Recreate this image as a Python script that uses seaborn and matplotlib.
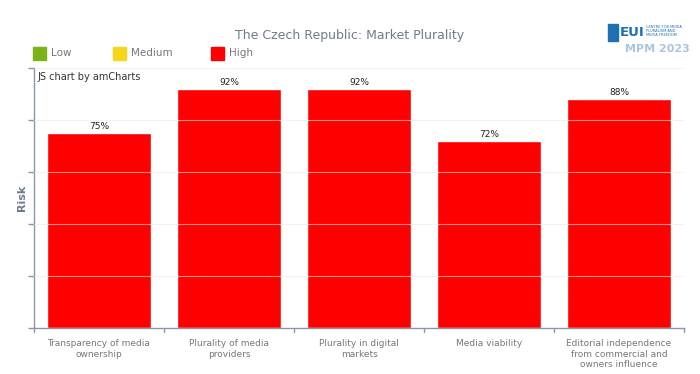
import matplotlib
matplotlib.use("Agg")
import matplotlib.pyplot as plt
import seaborn as sns
import pandas as pd
from matplotlib.patches import Rectangle

categories = ["Transparency of media\nownership", "Plurality of media\nproviders",
              "Plurality in digital\nmarkets", "Media viability",
              "Editorial independence\nfrom commercial and\nowners influence"]
values = [75, 92, 92, 72, 88]
value_labels = ["75%", "92%", "92%", "72%", "88%"]
legend_labels = ["Low", "Medium", "High"]
legend_colors = ["#7ab317", "#f7d51d", "#ff0000"]
y_ticks = [0, 20, 40, 60, 80, 100]

sns.set_theme(style="white")
plt.rcParams['font.family'] = ['DejaVu Sans']

df = pd.DataFrame({"category": categories, "value": values})

fig = plt.figure(figsize=(7.0, 3.74), dpi=100)
ax = fig.add_axes([34/700, 1-328/374, 650/700, 260/374])

sns.barplot(data=df, x="category", y="value", color="#ff0000", width=0.8,
            saturation=1, ax=ax, zorder=2)

ax.set_ylim(0, 100)
ax.set_xlim(-0.5, 4.5)
ax.set_yticks(y_ticks)
ax.set_yticklabels([])
for yv in y_ticks[1:]:
    ax.axhline(yv, color="#ececec", lw=0.8, zorder=3, alpha=0.6)

for i, (v, lab) in enumerate(zip(values, value_labels)):
    ax.text(i, v + 0.8, lab, ha="center", va="bottom", fontsize=6.5, color="#222222")

ax.set_xlabel("")
ax.set_ylabel("Risk", fontsize=8, color="#6d7b8d", fontweight="bold")
ax.yaxis.set_label_coords(-0.011, 0.5)
ax.set_xticks(range(len(categories)))
ax.set_xticklabels(categories, fontsize=6.5, color="#777777", linespacing=1.2)
ax.tick_params(axis="x", length=0, pad=8)

for s in ["top", "right"]:
    ax.spines[s].set_visible(False)
for s in ["left", "bottom"]:
    ax.spines[s].set_color("#8a97a8")
    ax.spines[s].set_linewidth(1.0)

ax.tick_params(axis="y", left=True, length=4, color="#8a97a8", width=1)
for b in [-0.5, 0.5, 1.5, 2.5, 3.5, 4.5]:
    ax.plot([b, b], [0, -1.6], color="#8a97a8", lw=1, clip_on=False, zorder=4)

ax.text(0.005, 0.985, "JS chart by amCharts", transform=ax.transAxes, fontsize=7,
        color="#333333", ha="left", va="top")

fig.text(0.5, 1-35/374, "The Czech Republic: Market Plurality", ha="center",
         va="center", fontsize=9, color="#6d7b8d")

# legend
lx = [33, 113, 211]
for x0, lab, col in zip(lx, legend_labels, legend_colors):
    fig.patches.append(Rectangle((x0/700, 1-60/374), 13/700, 13/374,
                                 transform=fig.transFigure, color=col))
    fig.text((x0+18)/700, 1-53.5/374, lab, fontsize=7.5, color="#777777",
             va="center", ha="left")

# logo approximation
fig.patches.append(Rectangle((608/700, 1-41/374), 10/700, 17/374,
                             transform=fig.transFigure, color="#1f6fb5"))
fig.text(620/700, 1-32/374, "EUI", fontsize=9.5, fontweight="bold",
         color="#1f6fb5", va="center", ha="left")
fig.text(646/700, 1-31/374, "CENTRE FOR MEDIA\nPLURALISM AND\nMEDIA FREEDOM",
         fontsize=2.6, color="#1f6fb5", va="center", ha="left", linespacing=1.1)
fig.text(625/700, 1-49/374, "MPM 2023", fontsize=8, fontweight="bold",
         color="#a9c4e4", va="center", ha="left")

fig.savefig("out.png", dpi=100, facecolor="white")
